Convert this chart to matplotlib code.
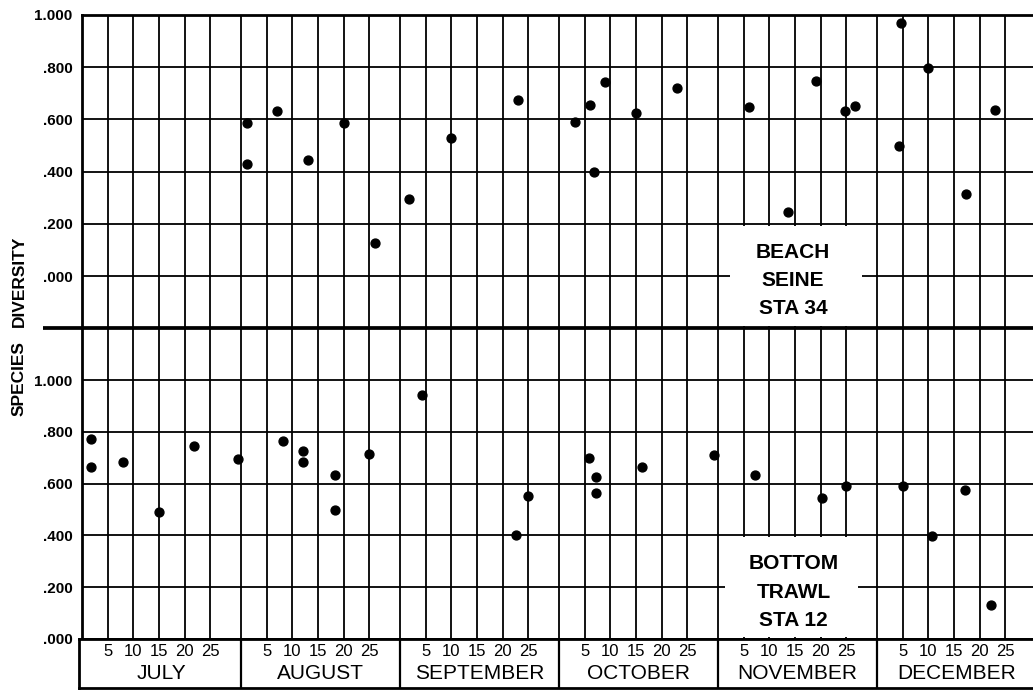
import matplotlib
matplotlib.use("Agg")
import matplotlib.pyplot as plt
from matplotlib.lines import Line2D
from matplotlib.patches import Rectangle

plt.rcParams["font.family"] = ["Liberation Sans", "DejaVu Sans"]

# ---- data -------------------------------------------------------------
months = ["JULY", "AUGUST", "SEPTEMBER", "OCTOBER", "NOVEMBER", "DECEMBER"]
day_ticks = [5, 10, 15, 20, 25]
div_ticks = [0.0, 0.2, 0.4, 0.6, 0.8, 1.0]

# Beach seine, station 34 (month index 0 = July)
seine_month = [1, 1, 1, 1, 1, 1,
               2, 2, 2,
               3, 3, 3, 3, 3, 3,
               4, 4, 4, 4, 4,
               5, 5, 5, 5, 5]
seine_day = [1.2, 1.2, 7.1, 13.1, 20.0, 26.2,
             1.8, 10.0, 22.9,
             3.1, 6.0, 6.9, 9.0, 15.0, 22.9,
             6.1, 13.7, 19.0, 24.7, 26.6,
             4.6, 4.3, 10.0, 17.3, 23.0]
seine_div = [0.585, 0.428, 0.632, 0.444, 0.585, 0.128,
             0.294, 0.527, 0.674,
             0.589, 0.656, 0.397, 0.744, 0.623, 0.719,
             0.646, 0.247, 0.748, 0.632, 0.651,
             0.971, 0.498, 0.796, 0.314, 0.637]

# Bottom trawl, station 12
trawl_month = [0, 0, 0, 0, 0, 0,
               1, 1, 1, 1, 1, 1,
               2, 2, 2,
               3, 3, 3, 3, 3,
               4, 4, 4,
               5, 5, 5, 5]
trawl_day = [1.8, 1.8, 7.9, 15.0, 21.8, 30.4,
             8.2, 12.1, 12.1, 18.3, 18.3, 25.0,
             4.3, 22.6, 25.0,
             5.9, 7.1, 7.1, 16.1, 30.2,
             7.1, 20.2, 25.0,
             5.0, 10.7, 17.1, 22.2]
trawl_div = [0.771, 0.665, 0.685, 0.492, 0.746, 0.694,
             0.766, 0.727, 0.685, 0.632, 0.499, 0.713,
             0.941, 0.402, 0.551,
             0.700, 0.625, 0.564, 0.664, 0.712,
             0.633, 0.546, 0.591,
             0.592, 0.398, 0.575, 0.131]

# ---- layout helpers -----------------------------------------------------
MONTH_SPAN = 31          # every month gets the same width on the sheet


def xpos(month, day):
    return MONTH_SPAN * month + day


W, H = 1033, 691
PX_PER_DAY = 5.13
X_END = (W - 82) / PX_PER_DAY

fig = plt.figure(figsize=(W / 100, H / 100), dpi=100)


def box(left, top, right, bottom):
    return [left / W, 1 - bottom / H, (right - left) / W, (bottom - top) / H]


ax_top = fig.add_axes(box(82, 15, W, 328.3))
ax_bot = fig.add_axes(box(82, 328.3, W, 639))
ax_lab = fig.add_axes(box(79, 639, W, 688))

grid_x = []
for m in range(len(months)):
    if m > 0:
        grid_x.append(MONTH_SPAN * m)
    grid_x.extend(xpos(m, d) for d in day_ticks)


def tick_text(v):
    return "1.000" if v >= 1 else ("%.3f" % v)[1:]


def setup_panel(ax, ylo, yhi):
    ax.set_xlim(0, X_END)
    ax.set_ylim(ylo, yhi)
    ax.set_axisbelow(True)
    ax.set_xticks(grid_x)
    ys = [round(ylo + 0.2 * i, 1) for i in range(int(round((yhi - ylo) / 0.2)) + 1)]
    ax.set_yticks(ys)
    ax.set_yticklabels([tick_text(v) if 0 <= v <= 1.0 else "" for v in ys],
                       fontsize=11, fontweight="bold")
    ax.tick_params(axis="x", length=0, labelbottom=False)
    ax.tick_params(axis="y", length=0, pad=7)
    ax.grid(True, color="black", lw=1.3)
    for s in ax.spines.values():
        s.set_linewidth(2.0)
    ax.spines["right"].set_visible(False)


setup_panel(ax_top, -0.2, 1.0)
setup_panel(ax_bot, 0.0, 1.2)
ax_top.spines["bottom"].set_visible(False)
ax_bot.spines["top"].set_visible(False)

# data points
ax_top.plot([xpos(m, d) for m, d in zip(seine_month, seine_day)], seine_div,
            "o", ms=6.4, color="black", clip_on=False, zorder=5)
ax_bot.plot([xpos(m, d) for m, d in zip(trawl_month, trawl_day)], trawl_div,
            "o", ms=6.4, color="black", clip_on=False, zorder=5)

# station captions in blanked-out boxes
ax_top.add_patch(Rectangle((126.3, -0.193), 25.7, 0.386, facecolor="white",
                           edgecolor="none", zorder=2))
for txt, y in zip(["BEACH", "SEINE", "STA 34"], [0.091, -0.016, -0.123]):
    ax_top.text(138.6, y, txt, ha="center", va="center", fontsize=15,
                fontweight="bold", zorder=4)

ax_bot.add_patch(Rectangle((125.3, 0.006), 26.0, 0.388, facecolor="white",
                           edgecolor="none", zorder=2))
for txt, y in zip(["BOTTOM", "TRAWL", "STA 12"], [0.293, 0.181, 0.073]):
    ax_bot.text(138.7, y, txt, ha="center", va="center", fontsize=15,
                fontweight="bold", zorder=4)

# month / day label strip
ax_lab.set_xlim(-3 / PX_PER_DAY, X_END)
ax_lab.set_ylim(0, 1)
ax_lab.set_xticks([])
ax_lab.set_yticks([])
for s in ax_lab.spines.values():
    s.set_linewidth(2.0)
ax_lab.spines["right"].set_visible(False)
for m in range(1, len(months)):
    ax_lab.axvline(MONTH_SPAN * m, color="black", lw=1.6)
for m, name in enumerate(months):
    for d in day_ticks:
        ax_lab.text(xpos(m, d), 0.75, str(d), ha="center", va="center",
                    fontsize=12)
    ax_lab.text(MONTH_SPAN * m + MONTH_SPAN / 2, 0.29, name, ha="center",
                va="center", fontsize=15)

# heavy divider between the two panels, running into the label margin
fig.add_artist(Line2D([43 / W, 1.0], [1 - 328.3 / H] * 2, color="black",
                      lw=2.7, solid_capstyle="butt"))

# shared axis title
fig.text(19 / W, 1 - 281.5 / H, "DIVERSITY", rotation=90, ha="center",
         va="center", fontsize=12.5, fontweight="bold")
fig.text(19 / W, 1 - 378.5 / H, "SPECIES", rotation=90, ha="center",
         va="center", fontsize=12.5, fontweight="bold")

fig.savefig("out.png", dpi=100, facecolor="white")
